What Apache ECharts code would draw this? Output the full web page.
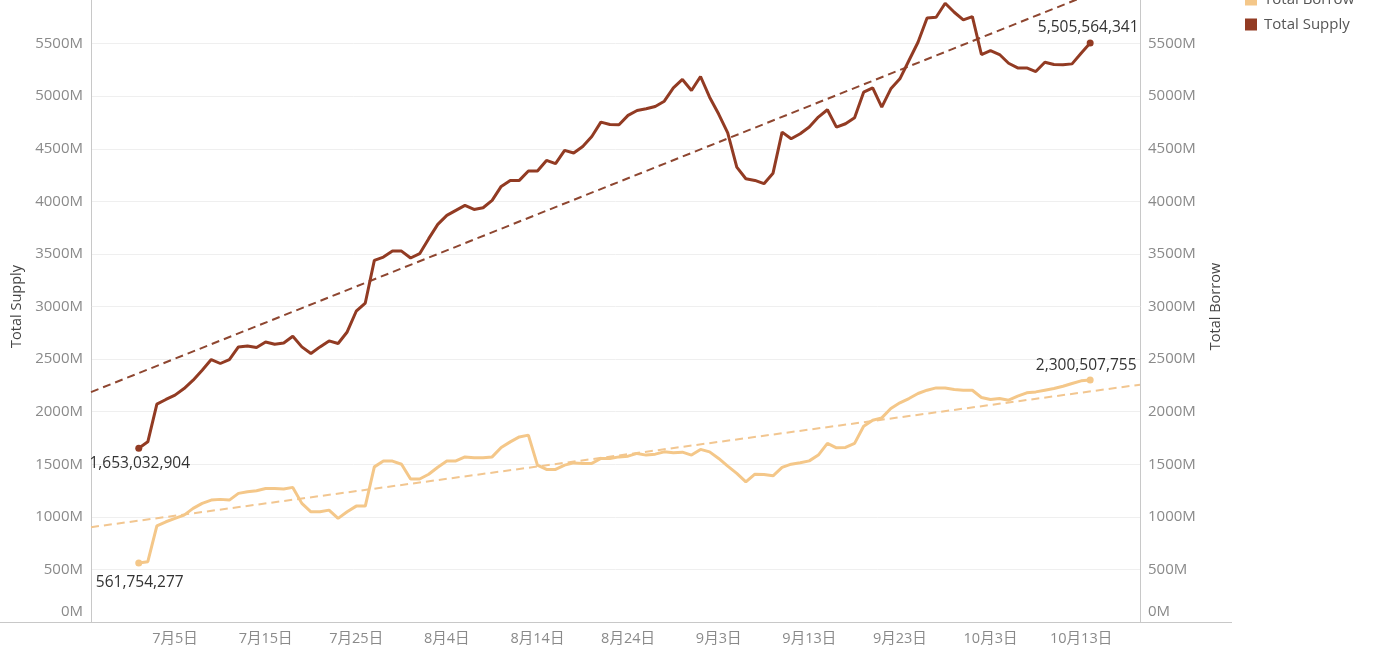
<!DOCTYPE html>
<html>
<head>
<meta charset="utf-8">
<script src="https://cdn.jsdelivr.net/npm/echarts@6/dist/echarts.min.js"></script>
<style>
html,body{margin:0;padding:0;background:#fff;overflow:hidden;}
#c{width:1382px;height:677px;margin-top:-20px;}
</style>
</head>
<body>
<div id="c"></div>
<script>
// Day offsets from 7月1日 (day 0 = Jul 1), daily values in millions
const startDay = 0;
const supplyM = [1653.032904,1713,2071,2116,2157,2220,2299,2394,2496,2458,
2496,2616,2625,2610,2663,2641,2653,2717,2616,2553,
2616,2673,2648,2758,2955,3033,3439,3470,3527,3527,
3461,3502,3645,3781,3866,3914,3961,3923,3939,4009,
4142,4199,4199,4288,4288,4389,4358,4484,4459,4522,
4617,4753,4731,4728,4817,4864,4880,4902,4952,5079,
5159,5054,5187,4990,4830,4650,4326,4215,4199,4168,
4268,4658,4595,4643,4706,4801,4871,4706,4738,4795,
5038,5079,4896,5070,5165,5339,5513,5744,5750,5883,
5798,5725,5757,5396,5434,5396,5313,5269,5269,5234,
5323,5301,5298,5307,5408,5505.564341];
const borrowM = [561.754277,573,915,953,985,1016,1080,1128,1159,1166,
1159,1223,1238,1248,1270,1270,1264,1280,1128,1048,
1048,1064,985,1048,1102,1102,1475,1530,1530,1500,
1359,1360,1405,1472,1531,1532,1570,1562,1561,1570,
1660,1713,1760,1777,1492,1451,1451,1492,1513,1508,
1508,1555,1555,1570,1577,1603,1587,1596,1618,1609,
1615,1587,1641,1618,1555,1482,1413,1333,1406,1403,
1390,1470,1501,1515,1532,1587,1698,1656,1660,1698,
1862,1919,1941,2030,2084,2125,2173,2204,2226,2226,
2211,2204,2204,2135,2116,2125,2109,2147,2179,2188,
2204,2220,2242,2268,2293,2300.507755];
const tickDays = [4,14,24,34,44,54,64,74,84,94,104];
const tickLabels = ['7月5日','7月15日','7月25日','8月4日','8月14日','8月24日','9月3日','9月13日','9月23日','10月3日','10月13日'];
const xMin = -5.27, xMax = 110.5;

const FONT = "'Open Sans','Noto Sans CJK SC',sans-serif";
const C_SUP = '#923b23', C_BOR = '#f4c789';
const C_SUP_T = '#8e4630', C_BOR_T = '#f2c690';

function fmtFull(m){ return Math.round(m*1e6).toLocaleString('en-US'); }

function buildSeriesData(arr, posFirst, posLast, distFirst, distLast, offLast){
  return arr.map((v,i)=>{
    const x = startDay + i;
    if(i===0 || i===arr.length-1){
      const first = i===0;
      return {value:[x,v], symbolSize:7,
        label:{show:true, position: first?posFirst:posLast, distance: first?distFirst:distLast,
          offset: first?[1,0]:offLast,
          formatter: fmtFull(v), color:'#333', fontSize:15.5, fontFamily:FONT}};
    }
    return {value:[x,v], symbolSize:0};
  });
}
function trend(arr){
  const n = arr.length; let sx=0, sy=0, sxx=0, sxy=0;
  arr.forEach((v,i)=>{const x=startDay+i; sx+=x; sy+=v; sxx+=x*x; sxy+=x*v;});
  const b = (n*sxy - sx*sy)/(n*sxx - sx*sx);
  const a = (sy - b*sx)/n;
  return [[xMin, a+b*xMin],[xMax, a+b*xMax]];
}

const chart = echarts.init(document.getElementById('c'), null, {renderer:'canvas'});
const lblBase = {color:'#8a8a8a', fontSize:15, fontFamily:FONT, margin:8,
  formatter: v => v===0 ? '{z|0M}' : v+'M',
  rich:{z:{padding:[0,0,20,0], color:'#8a8a8a', fontSize:15, fontFamily:FONT}}};
const yAxisCommon = {
  type:'value', min:0, max:6000, interval:500,
  axisLine:{show:true, onZero:false, lineStyle:{color:'#c8c8c8', width:1}},
  axisTick:{show:false},
  splitLine:{show:true, lineStyle:{color:'#efefef', width:1}},
  nameLocation:'middle',
  nameTextStyle:{color:'#444', fontSize:14.5, fontFamily:FONT}
};
chart.setOption({
  animation:false,
  backgroundColor:'#fff',
  textStyle:{fontFamily:FONT},
  grid:{left:91, right:242, top:11, bottom:35, containLabel:false},
  legend:{
    orient:'vertical', left:1245, top:12, padding:0, itemWidth:12, itemHeight:12, itemGap:10,
    icon:'rect', textStyle:{color:'#555', fontSize:15, fontFamily:FONT, padding:[0,0,0,2]},
    data:['Total Borrow','Total Supply']
  },
  xAxis:{
    type:'value', min:xMin, max:xMax,
    axisLine:{show:true, onZero:false, lineStyle:{color:'#c8c8c8'}},
    axisTick:{show:false},
    splitLine:{show:false},
    axisLabel:{color:'#8a8a8a', fontSize:14.5, fontFamily:FONT, margin:10,
      customValues: tickDays,
      formatter: v => { const k = tickDays.indexOf(Math.round(v)); return k>=0 ? tickLabels[k] : ''; }}
  },
  yAxis:[
    Object.assign({}, yAxisCommon, {name:'Total Supply', nameGap:66, position:'left',
      axisLabel:Object.assign({}, lblBase)}),
    Object.assign({}, yAxisCommon, {name:'Total Borrow', nameGap:69, position:'right', nameRotate:90,
      axisLabel:Object.assign({}, lblBase, {align:'left'}), splitLine:{show:false}})
  ],
  graphic:[{type:'line', shape:{x1:0,y1:642.5,x2:1232,y2:642.5}, style:{stroke:'#c8c8c8', lineWidth:1}, z:1}],
  series:[
    {name:'Total Borrow', type:'line', yAxisIndex:1, data: buildSeriesData(borrowM,'bottom','top',8,3,[-4,0]),
      symbol:'circle', showSymbol:true, lineStyle:{color:C_BOR, width:3}, itemStyle:{color:C_BOR}, z:3},
    {name:'Total Supply', type:'line', yAxisIndex:0, data: buildSeriesData(supplyM,'bottom','top',4,4,[-2,0]),
      symbol:'circle', showSymbol:true, lineStyle:{color:C_SUP, width:3}, itemStyle:{color:C_SUP}, z:4},
    {name:'Borrow Trend', type:'line', yAxisIndex:1, data: trend(borrowM), showSymbol:false,
      lineStyle:{color:C_BOR_T, width:2, type:[8,5]}, z:2, silent:true},
    {name:'Supply Trend', type:'line', yAxisIndex:0, data: trend(supplyM), showSymbol:false,
      lineStyle:{color:C_SUP_T, width:2, type:[8,5]}, z:2, silent:true}
  ]
});
</script>
</body>
</html>
